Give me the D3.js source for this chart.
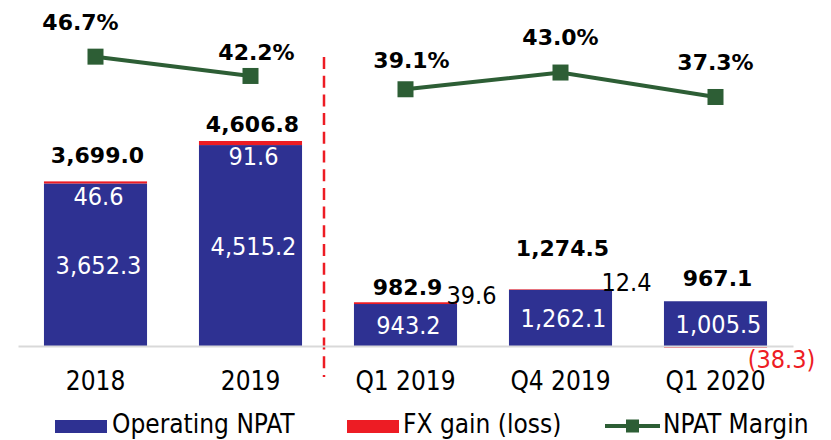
<!DOCTYPE html>
<html>
<head>
<meta charset="utf-8">
<script src="https://cdn.jsdelivr.net/npm/d3@7"></script>
<style>
  body { margin: 0; background: #fff; }
  .cond { font-family: "DejaVu Sans Condensed", "DejaVu Sans", sans-serif; font-stretch: condensed; }
  .bold { font-family: "DejaVu Sans", sans-serif; font-weight: bold; }
</style>
</head>
<body>
<div id="chart"></div>
<script>
(function () {

  // data
  var periods = ["2018", "2019", "Q1 2019", "Q4 2019", "Q1 2020"]
  var periodGroup = ["year", "year", "quarter", "quarter", "quarter"]
  var operatingNpat = [3652.3, 4515.2, 943.2, 1262.1, 1005.5]
  var fxGain = [46.6, 91.6, 39.6, 12.4, -38.3]
  var totalNpat = [3699.0, 4606.8, 982.9, 1274.5, 967.1]
  var npatMargin = [46.7, 42.2, 39.1, 43.0, 37.3]

  // label nudges (layout only)
  var totalDy = [-18, -9, -7, -33, -15]
  var marginDx = [-15, 6, 6, 0, 0]
  var marginDy = [-27, -16, -21, -28, -27]

  var blue = "#2E3192", red = "#ED1C24", green = "#2D5E35"

  var width = 831, height = 440
  var baseY = 346

  var svg = d3.select("#chart").append("svg")
    .attr("width", width)
    .attr("height", height)

  var fmt = d3.format(",.1f")

  var rows = periods.map(function (p, i) {
    return {
      period: p,
      group: periodGroup[i],
      op: operatingNpat[i],
      fx: fxGain[i],
      total: totalNpat[i],
      margin: npatMargin[i],
      i: i
    }
  })

  var x = d3.scaleBand().domain(periods).range([18, 793]).paddingInner(0.335).paddingOuter(0.1675)
  var y = d3.scaleLinear().domain([0, 5000]).range([baseY, baseY - 222.5])
  var yMargin = d3.scaleLinear().domain([0, 50]).range([257, 42.5])

  // divider between annual and quarterly
  var divX = (x("2019") + x.bandwidth() + x("Q1 2019")) / 2 - 4
  svg.append("line")
    .attr("x1", divX).attr("x2", divX)
    .attr("y1", 57).attr("y2", 377)
    .attr("stroke", red)
    .attr("stroke-width", 2.5)
    .attr("stroke-dasharray", "12,6.7")

  // bars
  var bars = svg.selectAll(".bar")
    .data(rows)
    .enter()
    .append("g")
    .attr("class", "bar")

  bars.append("rect")
    .attr("x", function (d) { return x(d.period) })
    .attr("width", x.bandwidth())
    .attr("y", function (d) { return y(d.op) })
    .attr("height", function (d) { return y(0) - y(d.op) })
    .attr("fill", blue)

  bars.append("rect")
    .attr("x", function (d) { return x(d.period) })
    .attr("width", x.bandwidth())
    .attr("y", function (d) { return d.fx >= 0 ? y(d.op + d.fx) : y(0) })
    .attr("height", function (d) { return Math.abs(y(0) - y(Math.abs(d.fx))) })
    .attr("fill", red)

  // axis
  var xAxis = d3.axisBottom(x).tickSize(0).tickSizeOuter(0)
  var axisG = svg.append("g")
    .attr("class", "axis x-axis")
    .attr("transform", "translate(0," + baseY + ")")
    .call(xAxis)
  axisG.select(".domain").attr("stroke", "#D9D9D9").attr("stroke-width", 2)
  axisG.selectAll("text")
    .attr("class", "cond")
    .attr("y", 44)
    .attr("dy", 0)
    .attr("font-size", 26)
    .attr("fill", "#000")

  // operating labels, in the middle of the blue bar
  bars.append("text")
    .attr("class", "cond")
    .attr("x", function (d) { return x(d.period) + x.bandwidth() / 2 + 3 })
    .attr("y", function (d) { return (y(d.op) + y(0)) / 2 + 9 })
    .attr("text-anchor", "middle")
    .attr("font-size", 25)
    .attr("fill", "#fff")
    .text(function (d) { return fmt(d.op) })

  // fx labels
  bars.append("text")
    .attr("class", "cond")
    .attr("x", function (d) {
      var c = x(d.period) + x.bandwidth() / 2
      return d.group === "year" ? c + 3 : c + 66
    })
    .attr("y", function (d) {
      if (d.group === "year") return y(d.op + d.fx) + 24
      if (d.fx < 0) return y(0) + 22
      return y(d.op + d.fx) + 2
    })
    .attr("text-anchor", "middle")
    .attr("font-size", 25)
    .attr("fill", function (d) {
      if (d.group === "year") return "#fff"
      return d.fx < 0 ? red : "#000"
    })
    .text(function (d) {
      return d.fx < 0 ? "(" + fmt(-d.fx) + ")" : fmt(d.fx)
    })

  // totals
  bars.append("text")
    .attr("class", "bold")
    .attr("x", function (d) { return x(d.period) + x.bandwidth() / 2 + 2 })
    .attr("y", function (d) { return y(d.op + Math.max(d.fx, 0)) + totalDy[d.i] })
    .attr("text-anchor", "middle")
    .attr("font-size", 22)
    .attr("fill", "#000")
    .text(function (d) { return fmt(d.total) })

  // margin lines, one per group
  var line = d3.line()
    .x(function (d) { return x(d.period) + x.bandwidth() / 2 })
    .y(function (d) { return yMargin(d.margin) })

  var groups = d3.groups(rows, function (d) { return d.group })
  svg.selectAll(".margin-line")
    .data(groups)
    .enter()
    .append("path")
    .attr("class", "margin-line")
    .attr("d", function (g) { return line(g[1]) })
    .attr("fill", "none")
    .attr("stroke", green)
    .attr("stroke-width", 4)

  var mk = 16
  svg.selectAll(".marker")
    .data(rows)
    .enter()
    .append("rect")
    .attr("class", "marker")
    .attr("x", function (d) { return x(d.period) + x.bandwidth() / 2 - mk / 2 })
    .attr("y", function (d) { return yMargin(d.margin) - mk / 2 })
    .attr("width", mk)
    .attr("height", mk)
    .attr("fill", green)

  svg.selectAll(".margin-label")
    .data(rows)
    .enter()
    .append("text")
    .attr("class", "margin-label bold")
    .attr("x", function (d) { return x(d.period) + x.bandwidth() / 2 + marginDx[d.i] })
    .attr("y", function (d) { return yMargin(d.margin) + marginDy[d.i] })
    .attr("text-anchor", "middle")
    .attr("font-size", 22)
    .attr("fill", "#000")
    .text(function (d) { return d.margin.toFixed(1) + "%" })

  // legend
  var legend = svg.append("g").attr("class", "legend")

  legend.append("rect").attr("x", 55).attr("y", 420).attr("width", 52).attr("height", 13).attr("fill", blue)
  legend.append("text").attr("class", "cond").attr("x", 112).attr("y", 433)
    .attr("font-size", 26).text("Operating NPAT")

  legend.append("rect").attr("x", 347).attr("y", 420).attr("width", 52).attr("height", 13).attr("fill", red)
  legend.append("text").attr("class", "cond").attr("x", 403).attr("y", 433)
    .attr("font-size", 26).text("FX gain (loss)")

  legend.append("line").attr("x1", 605).attr("x2", 660).attr("y1", 426).attr("y2", 426)
    .attr("stroke", green).attr("stroke-width", 4)
  legend.append("rect").attr("x", 626).attr("y", 419.5).attr("width", 13).attr("height", 13).attr("fill", green)
  legend.append("text").attr("class", "cond").attr("x", 663).attr("y", 433)
    .attr("font-size", 26).text("NPAT Margin")

})()
</script>
</body>
</html>
